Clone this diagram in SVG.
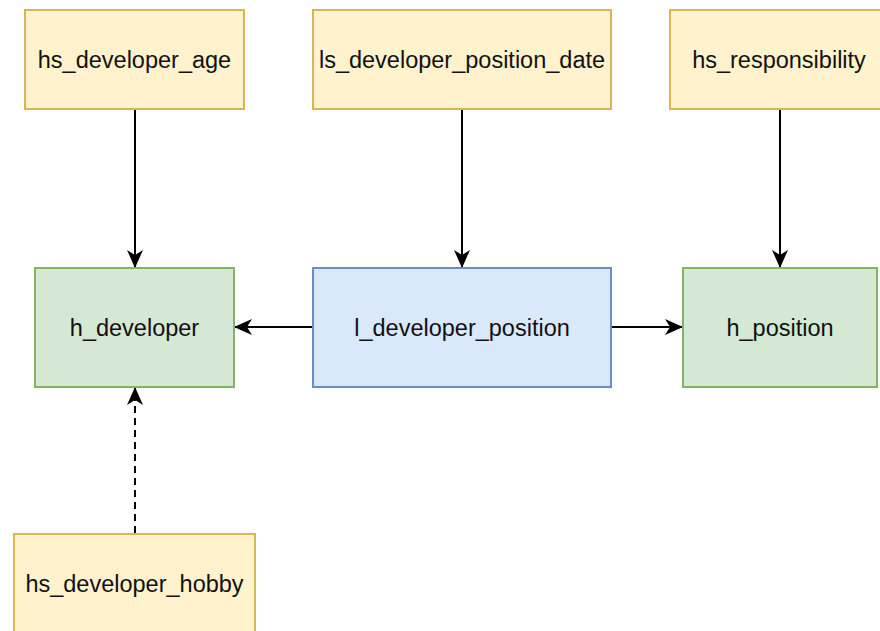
<svg xmlns="http://www.w3.org/2000/svg" width="880" height="631" viewBox="0 0 880 631">
  <style>
    .sat rect { fill: #fff2cc; stroke: #d6b656; stroke-width: 2; }
    .hub rect { fill: #d5e8d4; stroke: #82b366; stroke-width: 2; }
    .link rect { fill: #dae8fc; stroke: #6c8ebf; stroke-width: 2; }
    text { font-family: "Liberation Sans", Arial, sans-serif; font-size: 23.5px; fill: #111; text-anchor: middle; dominant-baseline: central; }
    .edge { stroke: #000; stroke-width: 2; fill: none; }
    .dashed { stroke-dasharray: 7 5; }
  </style>
  <defs>
    <marker id="arrow" viewBox="0 0 18 18" refX="17" refY="9" markerWidth="18" markerHeight="18" markerUnits="userSpaceOnUse" orient="auto">
      <path d="M0,1 L18,9 L0,17 L5,9 Z" fill="#000"/>
    </marker>
  </defs>

  <rect width="880" height="631" fill="#ffffff"/>

  <g id="connectors">
    <path class="edge" d="M135,110 V267" marker-end="url(#arrow)"/>
    <path class="edge" d="M462,110 V267" marker-end="url(#arrow)"/>
    <path class="edge" d="M780,110 V267" marker-end="url(#arrow)"/>
    <path class="edge" d="M312,327 H235" marker-end="url(#arrow)"/>
    <path class="edge" d="M612,327 H682" marker-end="url(#arrow)"/>
    <path class="edge dashed" d="M135,533 V388" marker-end="url(#arrow)"/>
  </g>

  <g id="hs_developer_age" class="sat">
    <rect x="25" y="10" width="219" height="99"/>
    <text x="134.5" y="60">hs_developer_age</text>
  </g>
  <g id="ls_developer_position_date" class="sat">
    <rect x="313" y="10" width="298" height="99"/>
    <text x="462" y="60">ls_developer_position_date</text>
  </g>
  <g id="hs_responsibility" class="sat">
    <rect x="670" y="10" width="218" height="99"/>
    <text x="779" y="60">hs_responsibility</text>
  </g>
  <g id="h_developer" class="hub">
    <rect x="35" y="268" width="199" height="119"/>
    <text x="134.5" y="328">h_developer</text>
  </g>
  <g id="l_developer_position" class="link">
    <rect x="313" y="268" width="298" height="119"/>
    <text x="462" y="328">l_developer_position</text>
  </g>
  <g id="h_position" class="hub">
    <rect x="683" y="268" width="194" height="119"/>
    <text x="780" y="328">h_position</text>
  </g>
  <g id="hs_developer_hobby" class="sat">
    <rect x="14" y="534" width="241" height="110"/>
    <text x="134.5" y="584">hs_developer_hobby</text>
  </g>
</svg>
